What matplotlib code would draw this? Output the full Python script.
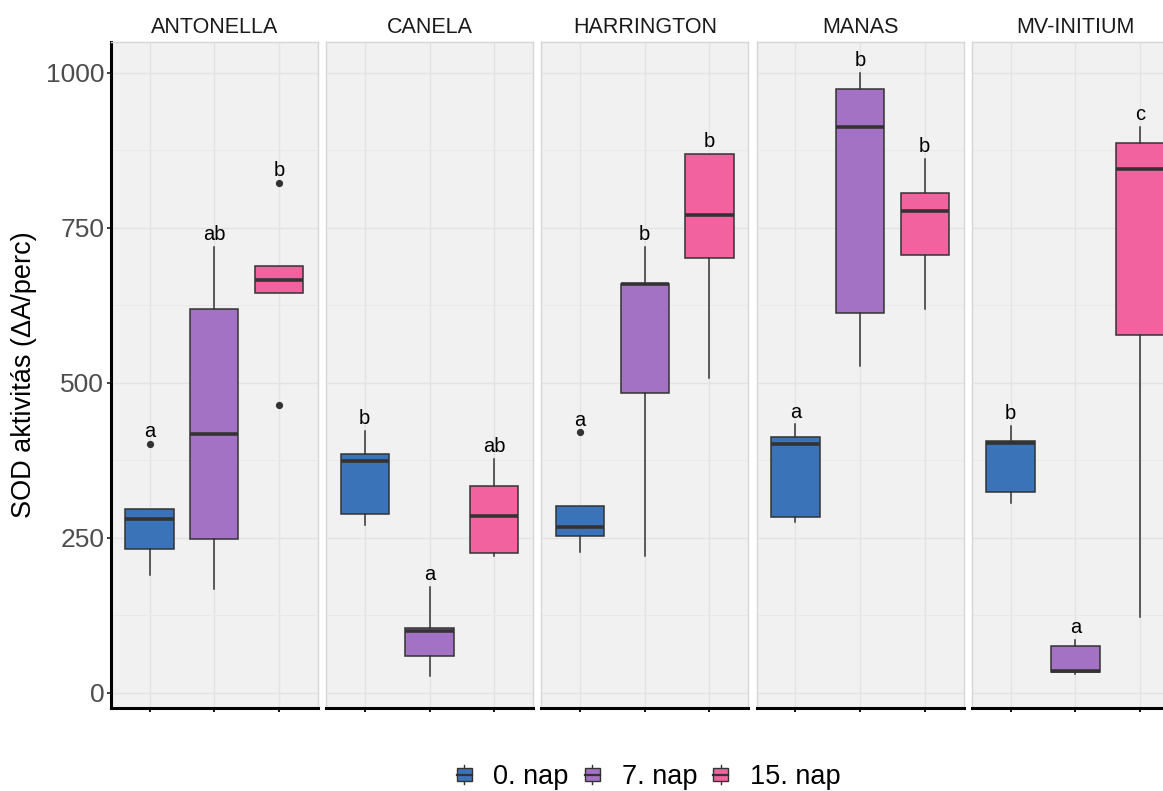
import matplotlib
matplotlib.use('Agg')
import matplotlib.pyplot as plt
from matplotlib.patches import Rectangle, Patch
from matplotlib.lines import Line2D
from matplotlib.legend_handler import HandlerBase

plt.rcParams['font.family'] = ['Liberation Sans', 'DejaVu Sans']

# ---------------- data ----------------
facets = ["ANTONELLA", "CANELA", "HARRINGTON", "MANAS", "MV-INITIUM"]
days = ["0. nap", "7. nap", "15. nap"]
colors = ["#3B73B9", "#A472C4", "#F2629F"]

q1 = [[232, 248, 645], [289, 60, 225], [253, 484, 701], [283, 613, 707], [324, 33, 577]]
med = [[280, 417, 666], [374, 100, 285], [267, 659, 771], [402, 913, 778], [403, 35, 845]]
q3 = [[297, 619, 689], [385, 105, 334], [302, 660, 870], [413, 974, 807], [406, 75, 887]]
whisk_lo = [[190, 168, 645], [270, 27, 220], [227, 220, 508], [275, 528, 619], [306, 30, 122]]
whisk_hi = [[297, 719, 689], [423, 171, 378], [302, 719, 870], [433, 1000, 862], [431, 85, 913]]
outliers = [[[402], [], [823, 464]],
            [[], [], []],
            [[420], [], []],
            [[], [], []],
            [[], [], []]]
letters = [["a", "ab", "b"], ["b", "a", "ab"], ["a", "b", "b"], ["a", "b", "b"], ["b", "a", "c"]]
yticks = [0, 250, 500, 750, 1000]
yminor = [125, 375, 625, 875]
ylabel = "SOD aktivitás (ΔA/perc)"

# ---------------- layout ----------------
W, H = 1163, 791
fig = plt.figure(figsize=(W / 100, H / 100), dpi=100)
left0, pw, gap = 110.7, 207.0, 8.3
top_px, bot_px = 42.0, 708.0
EDGE = "#333333"

for i, fname in enumerate(facets):
    lx = left0 + i * (pw + gap)
    ax = fig.add_axes([lx / W, (H - bot_px) / H, pw / W, (bot_px - top_px) / H])
    ax.set_facecolor("#F1F1F1")
    ax.set_axisbelow(True)

    stats = []
    for j in range(3):
        stats.append(dict(med=med[i][j], q1=q1[i][j], q3=q3[i][j],
                          whislo=whisk_lo[i][j], whishi=whisk_hi[i][j],
                          fliers=outliers[i][j]))
    bp = ax.bxp(stats, positions=[1, 2, 3], widths=0.75, patch_artist=True,
                showcaps=False,
                boxprops=dict(edgecolor=EDGE, linewidth=1.1),
                medianprops=dict(color=EDGE, linewidth=2.6, solid_capstyle='butt'),
                whiskerprops=dict(color=EDGE, linewidth=1.1),
                flierprops=dict(marker='o', markerfacecolor=EDGE,
                                markeredgecolor=EDGE, markersize=4.2))
    for patch, c in zip(bp['boxes'], colors):
        patch.set_facecolor(c)

    for j in range(3):
        top = max([whisk_hi[i][j]] + outliers[i][j])
        ax.text(j + 1, top + 11, letters[i][j], ha='center', va='baseline',
                fontsize=14.5, color="black")

    ax.set_xlim(0.4, 3.6)
    ax.set_ylim(-24.5, 1050)
    ax.set_xticks([1, 2, 3])
    ax.set_xticklabels([])
    ax.set_yticks(yticks)
    ax.set_yticks(yminor, minor=True)
    ax.grid(True, which='major', color="#E3E3E3", linewidth=1.0)
    ax.grid(True, which='minor', axis='y', color="#E8E8E8", linewidth=0.6)
    ax.tick_params(axis='x', which='major', length=2.6, width=1.3, color="black",
                   direction='out')
    ax.tick_params(axis='y', which='minor', left=False)

    for s in ['top', 'right', 'left', 'bottom']:
        ax.spines[s].set_color("#D6D6D6")
        ax.spines[s].set_linewidth(1.0)
    ax.spines['bottom'].set_color("black")
    ax.spines['bottom'].set_linewidth(2.2)

    if i == 0:
        ax.spines['left'].set_color("black")
        ax.spines['left'].set_linewidth(2.2)
        ax.tick_params(axis='y', which='major', length=2.6, width=1.3, color="#333333",
                       labelsize=19, labelcolor="#4D4D4D", pad=2)
        ax.set_ylabel(ylabel, fontsize=19.5, color="black")
        ax.yaxis.set_label_coords(-0.3575, 0.5)
    else:
        ax.tick_params(axis='y', which='major', left=False, labelleft=False)

    ax.set_title(fname, fontsize=15.5, color="#1A1A1A", pad=6.5)


class BoxKey(HandlerBase):
    def create_artists(self, legend, orig_handle, xdescent, ydescent,
                       width, height, fontsize, trans):
        cx = -xdescent + width / 2
        cy = -ydescent + height / 2
        bw, bh, wh = 11.0, 9.4, 14.0   # points
        whisk = Line2D([cx, cx], [cy - wh / 2, cy + wh / 2], color=EDGE,
                       linewidth=1.0, transform=trans)
        rect = Rectangle((cx - bw / 2, cy - bh / 2), bw, bh,
                         facecolor=orig_handle.get_facecolor(), edgecolor=EDGE,
                         linewidth=1.0, transform=trans)
        mline = Line2D([cx - bw / 2, cx + bw / 2], [cy, cy], color=EDGE,
                       linewidth=1.6, transform=trans)
        return [whisk, rect, mline]


handles = [Patch(facecolor=c, edgecolor=EDGE) for c in colors]
fig.legend(handles, days, loc='center', bbox_to_anchor=(648 / W, (H - 777) / H),
           ncol=3, frameon=False, fontsize=19.5, handlelength=0.65,
           handleheight=0.7, handletextpad=0.75, columnspacing=0.55,
           handler_map={Patch: BoxKey()})

fig.savefig("out.png", dpi=100)
